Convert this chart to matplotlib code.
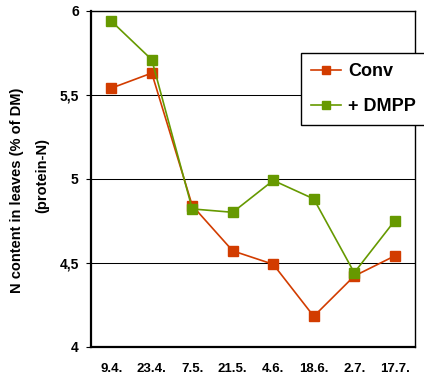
import matplotlib
matplotlib.use("Agg")
import matplotlib.pyplot as plt

plt.rcParams["font.family"] = ["Liberation Sans", "DejaVu Sans"]
plt.rcParams["font.weight"] = "bold"

# sampling dates
dates = ["9.4.", "23.4.", "7.5.", "21.5.", "4.6.", "18.6.", "2.7.", "17.7."]
conv = [5.54, 5.63, 4.84, 4.57, 4.49, 4.18, 4.42, 4.54]
dmpp = [5.94, 5.71, 4.82, 4.80, 4.99, 4.88, 4.44, 4.75]

y_ticks = [4, 4.5, 5, 5.5, 6]
y_tick_labels = ["4", "4,5", "5", "5,5", "6"]

c_conv = "#d23c00"
c_dmpp = "#669900"

W, H = 424, 378
fig = plt.figure(figsize=(W / 100, H / 100), dpi=100)
ax = fig.add_axes([91 / W, 1 - 346.5 / H, 324 / W, 335.5 / H])

x = list(range(len(dates)))
ax.plot(x, conv, color=c_conv, lw=1.2, marker="s", ms=7, mec=c_conv, label="Conv", zorder=3)
ax.plot(x, dmpp, color=c_dmpp, lw=1.2, marker="s", ms=7, mec=c_dmpp, label="+ DMPP", zorder=3)

ax.set_xlim(-0.5, len(dates) - 0.5)
ax.set_ylim(4, 6)
ax.set_yticks(y_ticks)
ax.set_yticklabels(y_tick_labels, fontsize=10, fontweight="bold")
ax.set_xticks(x)
ax.set_xticklabels(dates, fontsize=9.5, fontweight="bold")
ax.tick_params(axis="x", length=0, pad=12)
ax.tick_params(axis="y", length=3.8, width=0.8, pad=5, direction="out")
ax.yaxis.grid(True, color="black", lw=0.75)
ax.set_axisbelow(True)

for side in ("left", "bottom"):
    ax.spines[side].set_linewidth(1.6)
for side in ("top", "right"):
    ax.spines[side].set_linewidth(1.0)

fig.text(17.5 / W, 1 - 190.5 / H, "N content in leaves (% of DM)", rotation=90,
         ha="center", va="center", fontsize=10.5, fontweight="bold")
fig.text(42 / W, 1 - 175 / H, "(protein-N)", rotation=90,
         ha="center", va="center", fontsize=10.5, fontweight="bold")

leg = fig.legend(loc="upper left", bbox_to_anchor=(301 / W, 1 - 53 / H),
                 prop={"size": 13, "weight": "bold"}, frameon=True, fancybox=False,
                 handlelength=1.65, handletextpad=0.4, labelspacing=1.0,
                 borderpad=0.55, borderaxespad=0, markerscale=0.85)
leg.get_frame().set_edgecolor("black")
leg.get_frame().set_linewidth(1.0)
leg.get_frame().set_alpha(1)

fig.savefig("out.png", dpi=100)
